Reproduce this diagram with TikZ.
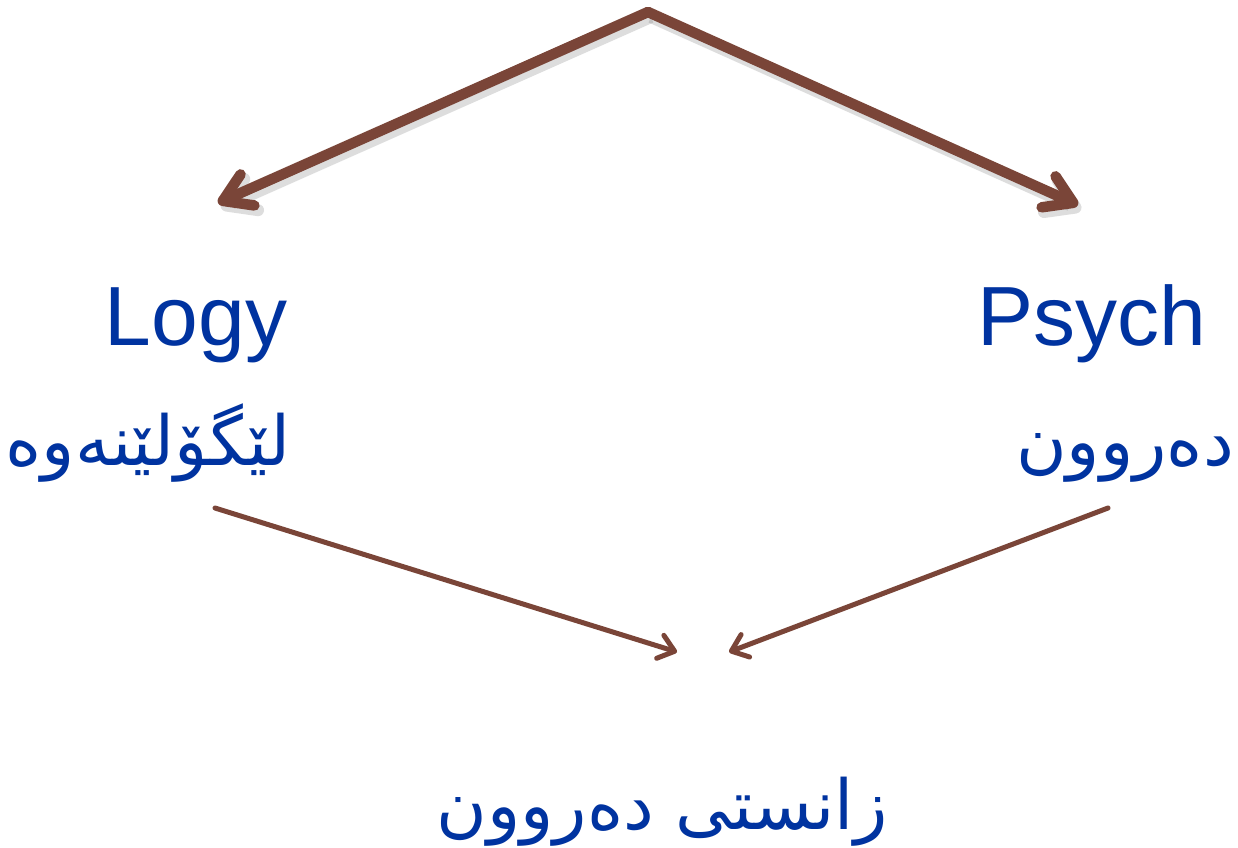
\documentclass[tikz,border=0pt]{standalone}
\usepackage{fontspec}
\setmainfont{Liberation Sans}
\newfontfamily\arabicfont[Script=Arabic]{DejaVu Sans}
\TeXXeTstate=1
\usetikzlibrary{arrows.meta}
\definecolor{arrowbrown}{HTML}{7A4538}
\definecolor{textblue}{HTML}{0033A0}
\tikzset{
  bigarrow/.style={draw=arrowbrown, line width=10.5pt, line cap=round,
    -{Straight Barb[length=27pt,width=34pt,round]},
    preaction={draw=black!60, opacity=0.22, line width=12pt,
      transform canvas={shift={(3pt,-5pt)}}}},
  smallarrow/.style={draw=arrowbrown, line width=5pt, line cap=round,
    -{Straight Barb[length=15pt,width=24pt,round]}},
  latintext/.style={text=textblue, font=\fontsize{84}{90}\selectfont, inner sep=0pt, anchor=base},
  kurdtext/.style={text=textblue, font=\arabicfont\fontsize{69}{75}\selectfont, inner sep=0pt, anchor=base},
}
\begin{document}
\begin{tikzpicture}[x=1pt,y=-1pt]
\useasboundingbox (0,0) rectangle (1238,847);
\fill[white] (0,0) rectangle (1238,847);
\coordinate (top) at (648,12);
\coordinate (tl) at (218,203);
\coordinate (tr) at (1078,205);
\coordinate (bl) at (215,508);
\coordinate (br) at (1108,508);
\coordinate (ml) at (677,652);
\coordinate (mr) at (729,652);
\node[latintext] (logy) at (196,345) {Logy};
\node[latintext] (psych) at (1092,345) {Psych};
\node[kurdtext] (lekolinewe) at (148,465) {\beginR لێگۆلێنەوە\endR};
\node[kurdtext] (derun) at (1125,465) {\beginR دەروون\endR};
\node[kurdtext] (zanist) at (662,829) {\beginR زانستی دەروون\endR};
\draw[bigarrow] (top) -- (tl);
\draw[bigarrow] (top) -- (tr);
\draw[smallarrow] (bl) -- (ml);
\draw[smallarrow] (br) -- (mr);
\end{tikzpicture}
\end{document}
